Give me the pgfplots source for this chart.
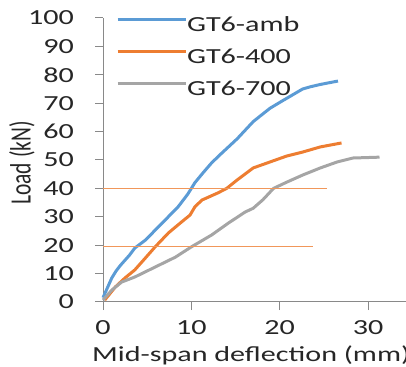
\documentclass[border=0pt]{standalone}
\usepackage{fontspec}
\setmainfont{Carlito}[FakeStretch=1.4]
\newfontfamily\plainfont{Carlito}
\usepackage{graphicx}
\usepackage{pgfplots}
\pgfplotsset{compat=1.18}
\definecolor{cblue}{HTML}{5B9BD5}
\definecolor{corange}{HTML}{ED7D31}
\definecolor{cgray}{HTML}{A5A5A5}
\definecolor{caxis}{HTML}{898989}
\definecolor{ctext}{HTML}{262626}
\newcommand{\fs}{\fontsize{21.5}{24}\selectfont}
\begin{document}
\begin{tikzpicture}[x=1pt,y=1pt]
\useasboundingbox (0,0) rectangle (406,366);
\clip (0,0) rectangle (406,366);
\begin{axis}[
  at={(103pt,64pt)}, anchor=south west,
  scale only axis, width=303pt, height=284pt,
  xmin=0, xmax=34.3, ymin=0, ymax=100,
  axis lines=left, axis line style={-, caxis, line width=1pt},
  xtick={0,10,20,30}, ytick={0,10,...,100},
  tick align=outside, major tick length=8pt,
  tick style={caxis, line width=1pt},
  minor tick num=0,
  /pgf/number format/assume math mode=true,
  tick label style={font=\fs, text=ctext},
  yticklabel style={anchor=east, inner sep=0pt, xshift=-21pt},
  xticklabel style={anchor=north, inner sep=0pt, yshift=-10pt},
  clip=false,
  legend style={at={(axis cs:1.47,100.6)}, anchor=north west, draw=none, fill=none,
    inner sep=0pt, row sep=12pt, font=\fs, text=ctext,
    nodes={inner sep=0pt, text height=15pt, text depth=5pt},
    /tikz/every even column/.append style={column sep=6pt}},
  legend cell align=left,
  legend image code/.code={\draw[#1] (0pt,6.8pt) -- (68pt,6.8pt);},
]
\addplot[cblue, line width=3pt, line join=round] coordinates {
(0,1.5) (0.5,5) (1,8.5) (1.5,11) (2,13) (3,16.5) (3.6,19) (4.8,21.8) (6.7,27.8)
(8.5,33.5) (9.6,38) (10,40) (10.4,42) (11.3,45.4) (12.3,49) (13.3,52) (14.2,54.6)
(15.2,57.5) (16.1,60.5) (17,63.5) (17.8,65.5) (18.9,68.2) (20.4,71) (21.5,73)
(22.6,75) (23.5,75.8) (24.6,76.6) (26.6,77.8)};
\addlegendentry{GT6-amb}
\addplot[corange, line width=3pt, line join=round] coordinates {
(0.2,0.7) (1.4,5.3) (2.5,8.5) (3.6,11.3) (4.8,15.5) (5.9,19.4) (7.4,24.3) (8.9,28.2)
(9.85,30.6) (10.4,33.5) (11.2,35.9) (13,38.4) (14,40) (15.2,43) (17,47.2) (18.9,49.3)
(20.8,51.4) (22.6,52.8) (24.6,54.6) (27,56)};
\addlegendentry{GT6-400}
\addplot[cgray, line width=3pt, line join=round] coordinates {
(0,0.7) (1,4.2) (2.1,7) (3.6,8.8) (5.9,12.3) (8.2,15.8) (10,19.4) (12.3,23.6)
(14.2,27.8) (16.1,31.7) (17,33) (18.1,36) (19.3,40) (20.8,42.2) (22.6,44.7)
(24.6,47.2) (26.5,49.3) (28.3,50.7) (31.3,51)};
\addlegendentry{GT6-700}
\addplot[corange!80, line width=1pt, forget plot] coordinates {(0,40) (25.3,40)};
\addplot[corange!80, line width=1pt, forget plot] coordinates {(0,19.5) (23.75,19.5)};
\end{axis}
\node[rotate=90, text=ctext, inner sep=0pt] at (22,203) {\plainfont\fs\scalebox{1}[1.37]{Load (kN)}};
\node[anchor=base west, text=ctext, inner sep=0pt] at (92,5) {\fs Mid-span deflection (mm)};
\end{tikzpicture}
\end{document}
